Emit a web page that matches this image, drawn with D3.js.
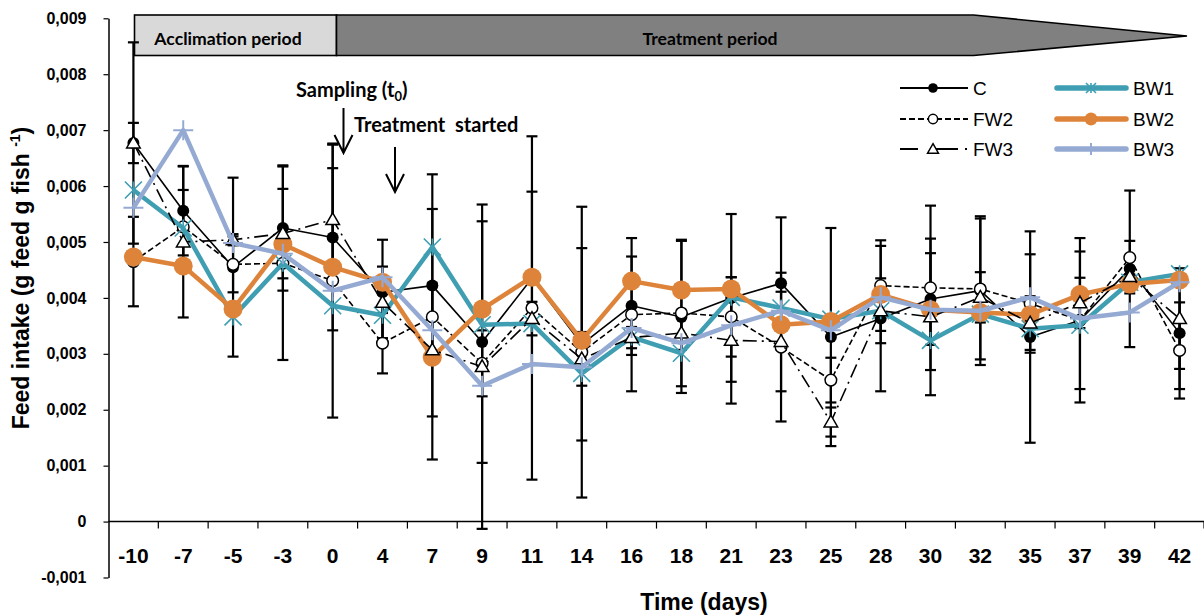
<!DOCTYPE html>
<html>
<head>
<meta charset="utf-8">
<script src="https://cdn.jsdelivr.net/npm/d3@7"></script>
<style>
  body { margin: 0; background: #fff; }
  svg { display: block; }
</style>
</head>
<body>
<svg id="chart" width="1204" height="616"></svg>
<script>
// ---------------- DATA ----------------
const days = ["-10","-7","-5","-3","0","4","7","9","11","14","16","18","21","23","25","28","30","32","35","37","39","42"];
const yTickValues = [-0.001, 0, 0.001, 0.002, 0.003, 0.004, 0.005, 0.006, 0.007, 0.008, 0.009];

const valC   = [0.00677,0.00556,0.00455,0.00525,0.00508,0.00410,0.00422,0.00321,0.00435,0.00317,0.00386,0.00366,0.00400,0.00426,0.00330,0.00363,0.00398,0.00413,0.00330,0.00360,0.00452,0.00337];
const errC   = [0.00180,0.00080,0.00160,0.00112,0.00166,0.00094,0.00137,0.00216,0.00155,0.00172,0.00088,0.00136,0.00150,0.00118,0.00195,0.00130,0.00082,0.00133,0.00189,0.00147,0.00140,0.00100];
const valFW2 = [0.00465,0.00527,0.00460,0.00462,0.00431,0.00319,0.00366,0.00283,0.00382,0.00303,0.00370,0.00373,0.00366,0.00312,0.00253,0.00422,0.00418,0.00416,0.00390,0.00360,0.00472,0.00306];
const errFW2 = [0.00080,0.00066,0.00050,0.00173,0.00245,0.00054,0.00255,0.00059,0.00307,0.00260,0.00137,0.00131,0.00071,0.00133,0.00040,0.00081,0.00147,0.00126,0.00088,0.00123,0.00030,0.00086];
const valFW3 = [0.00677,0.00500,0.00504,0.00515,0.00540,0.00392,0.00307,0.00277,0.00363,0.00291,0.00329,0.00337,0.00324,0.00322,0.00178,0.00377,0.00366,0.00401,0.00355,0.00391,0.00438,0.00363];
const errFW3 = [0.00036,0.00135,0.00010,0.00080,0.00092,0.00064,0.00119,0.00290,0.00030,0.00048,0.00019,0.00030,0.00113,0.00089,0.00026,0.00058,0.00140,0.00045,0.00048,0.00045,0.00030,0.00090];
const valBW1 = [0.00593,0.00525,0.00366,0.00462,0.00386,0.00369,0.00491,0.00352,0.00354,0.00265,0.00330,0.00301,0.00401,0.00382,0.00362,0.00377,0.00324,0.00371,0.00345,0.00351,0.00428,0.00443];
const valBW2 = [0.00473,0.00457,0.00380,0.00496,0.00455,0.00428,0.00294,0.00380,0.00437,0.00324,0.00430,0.00414,0.00416,0.00352,0.00358,0.00406,0.00379,0.00374,0.00370,0.00406,0.00425,0.00432];
const valBW3 = [0.00561,0.00700,0.00498,0.00479,0.00413,0.00437,0.00342,0.00243,0.00282,0.00276,0.00346,0.00319,0.00351,0.00377,0.00342,0.00401,0.00379,0.00377,0.00401,0.00363,0.00374,0.00428];

const seriesNames = ["C","FW2","FW3","BW1","BW2","BW3"];
const yTitle = "Feed intake (g feed g fish ";
const yTitleSup = "-1";
const xTitle = "Time (days)";
const bannerLabels = ["Acclimation period", "Treatment period"];
const annotations = ["Sampling (t", "0", ")", "Treatment  started"];

// ---------------- STYLE ----------------
const styles = {
  C:   {values: valC,   err: errC,   color: "#000000", width: 1.6, dash: null,        marker: "dot"},
  FW2: {values: valFW2, err: errFW2, color: "#000000", width: 1.6, dash: "6,3",       marker: "open"},
  FW3: {values: valFW3, err: errFW3, color: "#000000", width: 1.6, dash: "14,5,2,5",  marker: "tri"},
  BW1: {values: valBW1, err: null,   color: "#3f9eb2", width: 4.5, dash: null,        marker: "star"},
  BW2: {values: valBW2, err: null,   color: "#de843a", width: 4.5, dash: null,        marker: "big"},
  BW3: {values: valBW3, err: null,   color: "#95aad3", width: 4.5, dash: null,        marker: "plus"}
};
const drawOrder = ["C","FW2","BW1","BW2","FW3","BW3"];

const svg = d3.select("#chart");
const x = d3.scaleBand().domain(days).range([108.5, 1204.5]);
const cx = d => x(d) + x.bandwidth() / 2;
const y = d3.scaleLinear().domain([-0.001, 0.009]).range([577.5, 18.3]);

const boldFont = "'Liberation Sans', Arial, sans-serif";
const calFont = "Lato, sans-serif";

// ---------------- BANNER ----------------
const bTop = 15, bBot = 55.5;
svg.append("rect").attr("x", 134.5).attr("y", bTop).attr("width", 202).attr("height", bBot - bTop)
  .attr("fill", "#d9d9d9").attr("stroke", "#000").attr("stroke-width", 1.6);
svg.append("path")
  .attr("d", `M336.5,${bTop}L973.5,${bTop}L1187,36L973.5,${bBot}L336.5,${bBot}Z`)
  .attr("fill", "#808080").attr("stroke", "#000").attr("stroke-width", 1.6);
svg.append("text").attr("x", 228).attr("y", 45).attr("text-anchor", "middle")
  .attr("font-family", calFont).attr("font-weight", "bold").attr("font-size", 17.6)
  .text(bannerLabels[0]);
svg.append("text").attr("x", 710).attr("y", 45).attr("text-anchor", "middle")
  .attr("font-family", calFont).attr("font-weight", "bold").attr("font-size", 17.6)
  .text(bannerLabels[1]);

// ---------------- AXES ----------------
const fmtY = d => d === 0 ? "0" : d3.format(".3f")(d).replace(".", ",").replace("\u2212", "-");
const yAxis = svg.append("g").attr("transform", "translate(108.5,0)")
  .call(d3.axisLeft(y).tickValues(yTickValues).tickSize(5).tickSizeOuter(0).tickPadding(6).tickFormat(fmtY));
yAxis.select(".domain").attr("stroke-width", 1.5);
yAxis.selectAll(".tick line").attr("stroke-width", 1.2);
yAxis.selectAll("text").attr("font-family", boldFont).attr("font-weight", "bold")
  .attr("font-size", 16).attr("fill", "#000").attr("dx", -11);

const y0 = y(0);
const xAxis = svg.append("g").attr("transform", `translate(0,${y0})`)
  .call(d3.axisBottom(x).tickSize(0).tickPadding(27));
xAxis.select(".domain").remove();
xAxis.selectAll("text").attr("font-family", boldFont).attr("font-weight", "bold")
  .attr("font-size", 21).attr("fill", "#000");
xAxis.append("line").attr("x1", 108.5).attr("x2", 1204).attr("y1", 0).attr("y2", 0)
  .attr("stroke", "#000").attr("stroke-width", 1.5);
xAxis.selectAll(".btick").data(days.slice(1).concat(["end"])).enter().append("line")
  .attr("x1", d => d === "end" ? 1204 : x(d)).attr("x2", d => d === "end" ? 1204 : x(d))
  .attr("y1", 0).attr("y2", 7).attr("stroke", "#000").attr("stroke-width", 1.2);

// axis titles
const yt = svg.append("text").attr("transform", "translate(29,278) rotate(-90)")
  .attr("text-anchor", "middle").attr("font-family", boldFont).attr("font-weight", "bold")
  .attr("font-size", 23).attr("fill", "#000");
yt.append("tspan").text(yTitle);
yt.append("tspan").attr("font-size", 14).attr("dy", -9).text(yTitleSup);
yt.append("tspan").attr("dy", 9).text(")");

svg.append("text").attr("x", 704).attr("y", 610).attr("text-anchor", "middle")
  .attr("font-family", boldFont).attr("font-weight", "bold").attr("font-size", 23)
  .text(xTitle);

// ---------------- ANNOTATIONS ----------------
const ann1 = svg.append("text").attr("x", 296).attr("y", 97)
  .attr("font-family", calFont).attr("font-weight", "bold").attr("font-size", 20);
ann1.append("tspan").text(annotations[0]);
ann1.append("tspan").attr("font-size", 13).attr("dy", 4).text(annotations[1]);
ann1.append("tspan").attr("dy", -4).text(annotations[2]);
svg.append("text").attr("x", 354).attr("y", 132)
  .attr("font-family", calFont).attr("font-weight", "bold").attr("font-size", 20)
  .style("white-space", "pre").text(annotations[3]);

function arrow(xa, ya, yb) {
  svg.append("path").attr("d", `M${xa},${ya}L${xa},${yb}M${xa - 9},${yb - 18}L${xa},${yb}L${xa + 9},${yb - 18}`)
    .attr("fill", "none").attr("stroke", "#000").attr("stroke-width", 2);
}
arrow(343.5, 108, 153);
arrow(395, 147, 192);

// ---------------- MARKERS ----------------
function drawMarker(g, type, px, py, color, small) {
  const k = small ? 0.8 : 1;
  if (type === "dot") {
    g.append("circle").attr("cx", px).attr("cy", py).attr("r", 6 * k).attr("fill", "#000");
  } else if (type === "open") {
    g.append("circle").attr("cx", px).attr("cy", py).attr("r", 5.8 * k).attr("fill", "#fff")
      .attr("stroke", "#000").attr("stroke-width", 1.5);
  } else if (type === "tri") {
    g.append("path").attr("d", d3.symbol(d3.symbolTriangle, 80 * k * k)())
      .attr("transform", `translate(${px},${py + 1})`).attr("fill", "#fff")
      .attr("stroke", "#000").attr("stroke-width", 1.5);
  } else if (type === "star") {
    const s = (small ? 5 : 8.5);
    g.append("path").attr("d", `M${px - s},${py - s}L${px + s},${py + s}M${px - s},${py + s}L${px + s},${py - s}M${px},${py - s}L${px},${py + s}`)
      .attr("stroke", color).attr("stroke-width", 1.6).attr("fill", "none");
  } else if (type === "big") {
    g.append("circle").attr("cx", px).attr("cy", py).attr("r", small ? 6.5 : 9.5).attr("fill", color);
  } else if (type === "plus") {
    const s = (small ? 6 : 10);
    g.append("path").attr("d", `M${px - s},${py}L${px + s},${py}M${px},${py - s}L${px},${py + s}`)
      .attr("stroke", color).attr("stroke-width", 2).attr("fill", "none");
  }
}

// ---------------- ERROR BARS ----------------
const eg = svg.append("g");
seriesNames.forEach(name => {
  const st = styles[name];
  if (!st.err) return;
  st.values.forEach((v, i) => {
    const e = st.err[i];
    const px = cx(days[i]);
    const yt1 = y(v + e), yb1 = y(v - e);
    eg.append("line").attr("x1", px).attr("x2", px).attr("y1", yt1).attr("y2", yb1)
      .attr("stroke", "#000").attr("stroke-width", 2.2);
    [yt1, yb1].forEach(yy => eg.append("line").attr("x1", px - 5.5).attr("x2", px + 5.5)
      .attr("y1", yy).attr("y2", yy).attr("stroke", "#000").attr("stroke-width", 2.2));
  });
});

// ---------------- SERIES ----------------
const line = d3.line().x((d, i) => cx(days[i])).y(d => y(d));
drawOrder.forEach(name => {
  const st = styles[name];
  const g = svg.append("g");
  g.append("path").datum(st.values).attr("d", line).attr("fill", "none")
    .attr("stroke", st.color).attr("stroke-width", st.width)
    .attr("stroke-linejoin", "round")
    .attr("stroke-dasharray", st.dash);
  st.values.forEach((v, i) => drawMarker(g, st.marker, cx(days[i]), y(v), st.color, false));
});

// ---------------- LEGEND ----------------
const legendPos = {
  C:   {x1: 900,  x2: 968,  mx: 933,  ty: 88},
  FW2: {x1: 900,  x2: 968,  mx: 933,  ty: 119},
  FW3: {x1: 900,  x2: 968,  mx: 933,  ty: 149},
  BW1: {x1: 1057, x2: 1126, mx: 1091, ty: 88},
  BW2: {x1: 1057, x2: 1126, mx: 1091, ty: 119},
  BW3: {x1: 1057, x2: 1126, mx: 1091, ty: 149}
};
seriesNames.forEach(name => {
  const st = styles[name], p = legendPos[name];
  const g = svg.append("g");
  const isB = name.startsWith("BW");
  g.append("line").attr("x1", p.x1).attr("x2", p.x2).attr("y1", p.ty).attr("y2", p.ty)
    .attr("stroke", st.color).attr("stroke-width", isB ? 5.5 : 2)
    .attr("stroke-linecap", isB ? "round" : "butt")
    .attr("stroke-dasharray", name === "FW3" ? "18,12,28,7,2" : st.dash);
  drawMarker(g, st.marker, p.mx, p.ty, st.color, true);
  g.append("text").attr("x", p.x2 + (isB ? 7 : 5)).attr("y", p.ty + 7)
    .attr("font-family", "'Liberation Sans', Arial, sans-serif").attr("font-size", 19)
    .attr("fill", "#000").text(name);
});
</script>
</body>
</html>
